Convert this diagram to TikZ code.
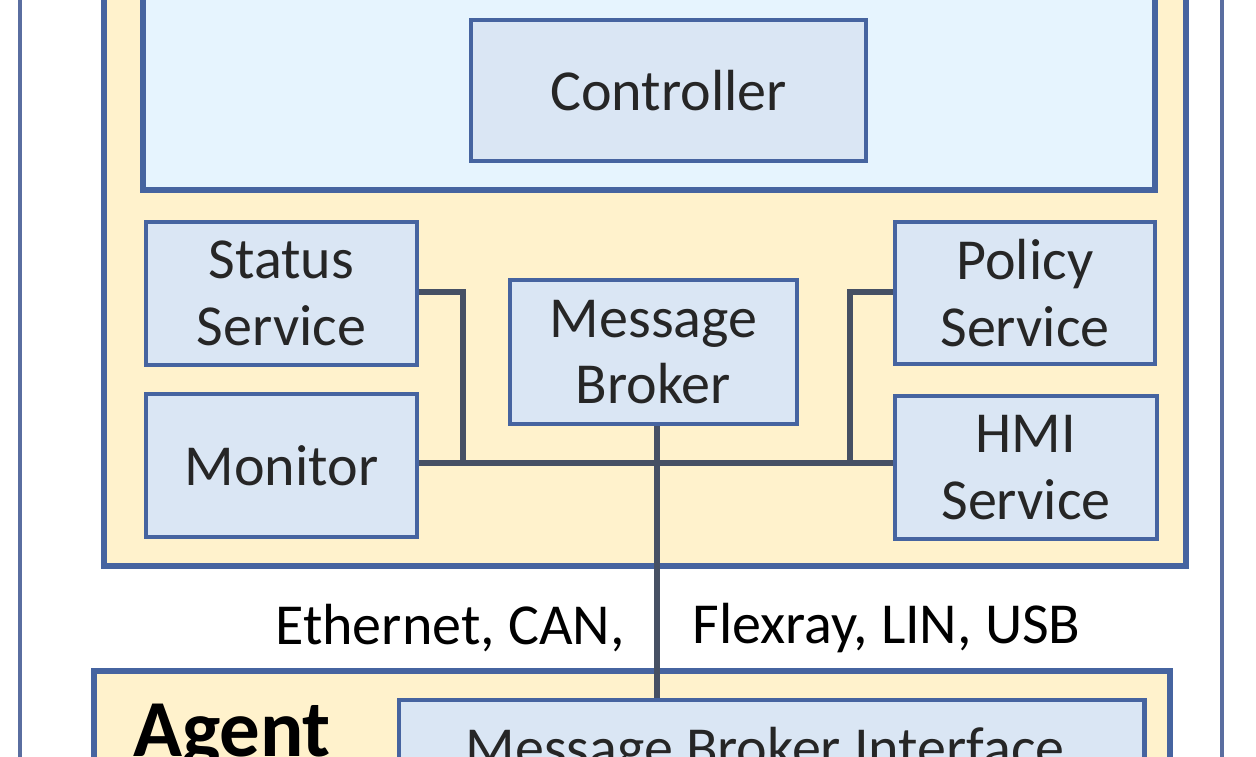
\documentclass[tikz,border=0pt]{standalone}
\usepackage{fontspec}
\setmainfont{Carlito}
\usepackage{tikz}
\usetikzlibrary{positioning}
\definecolor{framegray}{RGB}{90,110,160}
\definecolor{panelyellow}{RGB}{255,242,204}
\definecolor{panelblue}{RGB}{230,244,254}
\definecolor{boxblue}{RGB}{218,230,244}
\definecolor{edgeblue}{RGB}{70,100,160}
\definecolor{wirecolor}{RGB}{70,80,100}

\tikzset{
  block/.style={draw=edgeblue,fill=boxblue,line width=1.2pt,align=center,
    font=\fontsize{16.5}{19}\selectfont,text=black!85},
  panel/.style={draw=edgeblue,line width=1.6pt},
  wire/.style={draw=wirecolor,line width=1.6pt}
}

\begin{document}
\begin{tikzpicture}[x=0.01cm,y=-0.01cm]
                \useasboundingbox (0,0) rectangle (1256,756);
                \clip (0,0) rectangle (1256,756);
                % Frames and panels
                \draw[framegray,line width=1.4pt,fill=white] (20,-20) rectangle (1222,800);
                \draw[panel,fill=panelyellow] (104,-20) rectangle (1186,566);
                \draw[panel,fill=panelblue] (143,-20) rectangle (1155,190);
                \draw[panel,fill=panelyellow] (94,671) rectangle (1170,800);
                % Components
                \node[block,minimum width=3.95cm,minimum height=1.41cm] (ctrl) at (668.5,90.5) {Controller};
                \node[block,minimum width=2.71cm,minimum height=1.43cm] (status) at (281.5,293.5) {Status\\Service};
                \node[block,minimum width=2.71cm,minimum height=1.43cm] (monitor) at (281.5,465.5) {Monitor};
                \node[block,minimum width=2.87cm,minimum height=1.44cm] (broker) at (653.5,352) {Message\\Broker};
                \node[block,minimum width=2.60cm,minimum height=1.42cm] (policy) at (1025,293) {Policy\\Service};
                \node[block,minimum width=2.62cm,minimum height=1.43cm] (hmi) at (1026,467.5) {HMI\\Service};
                \node[block,minimum width=7.45cm,minimum height=1.2cm,anchor=north west] (iface) at (397,698) {};
                \node[font=\fontsize{16.5}{19}\selectfont,text=black!85] (ifacetext) at (765,752) {Message Broker Interface};
                \node[font=\fontsize{23}{26}\selectfont\bfseries] (agent) at (232,737) {Agent};
                % Wiring
                \coordinate (lbus) at (463,463);
                \coordinate (rbus) at (850,463);
                \draw[wire] (status.east |- 0,292) -| (lbus);
                \draw[wire] (monitor.east |- 0,463) -- (hmi.west |- 0,463);
                \draw[wire] (policy.west |- 0,292) -| (rbus);
                \draw[wire] (broker.south -| 657,0) -- (iface.north -| 657,0);
                % Links
                \node[font=\fontsize{16.5}{19}\selectfont,anchor=east] (lnkl) at (637,628) {Ethernet, CAN,};
                \node[font=\fontsize{16.5}{19}\selectfont,anchor=west] (lnkr) at (680,628) {Flexray, LIN, USB};
            \end{tikzpicture}
\end{document}
